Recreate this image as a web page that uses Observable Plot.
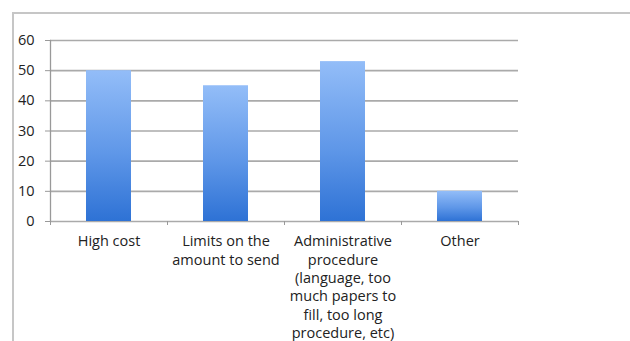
<!DOCTYPE html>
<html><head><meta charset="utf-8">
<script src="https://cdn.jsdelivr.net/npm/d3@7"></script>
<script src="https://cdn.jsdelivr.net/npm/@observablehq/plot@0.6"></script>
<style>
body{margin:0;background:#fff;}
#wrap{position:relative;width:630px;height:341px;overflow:hidden;}
#frame{position:absolute;left:12px;top:12px;width:700px;height:400px;border:2px solid #c6c6c6;pointer-events:none;}
</style></head><body><div id="wrap"><div id="chart"></div><div id="frame"></div></div>
<script>
const categories = ["High cost","Limits on the\namount to send","Administrative\nprocedure\n(language, too\nmuch papers to\nfill, too long\nprocedure, etc)","Other"];
const values = [50, 45, 53, 10];
const yTicks = [0, 10, 20, 30, 40, 50, 60];

const data = categories.map((c, i) => ({category: c, value: values[i]}));
const W = 630, H = 341, mL = 50, mR = 112, mT = 40, mB = 120;
const pi = 0.615;
const step = (W - mL - mR) / categories.length;

const plot = Plot.plot({
  width: W, height: H, marginLeft: mL, marginRight: mR, marginTop: mT, marginBottom: mB,
  style: {fontFamily: "'Open Sans', sans-serif", fontSize: "14.5px", color: "#222", background: "transparent"},
  x: {domain: categories, paddingInner: pi, paddingOuter: pi / 2, label: null},
  y: {domain: [0, 60], label: null},
  marks: [
    Plot.ruleY(yTicks, {stroke: "#aaaaaa", strokeWidth: 1.6}),
    Plot.barY(data, {x: "category", y: "value", fill: "url(#barGrad)"}),
    Plot.axisY({ticks: yTicks, tickSize: 5, tickPadding: 11, stroke: "#999", label: null}),
    Plot.axisX({tickSize: 0, tickPadding: 12, lineHeight: 1.26, label: null}),
    Plot.axisX({tickSize: 4, text: null, dx: step / 2, stroke: "#999", label: null}),
    Plot.axisX({ticks: [categories[0]], tickSize: 4, text: null, dx: -step / 2, stroke: "#999", label: null}),
    Plot.frame({anchor: "left", stroke: "#999", strokeWidth: 1.3})
  ]
});

const svg = d3.select(plot);
const grad = svg.insert("defs", ":first-child").append("linearGradient")
  .attr("id", "barGrad").attr("x1", 0).attr("y1", 0).attr("x2", 0).attr("y2", 1);
grad.append("stop").attr("offset", "0%").attr("stop-color", "#93bdf8");
grad.append("stop").attr("offset", "55%").attr("stop-color", "#5f97e8");
grad.append("stop").attr("offset", "100%").attr("stop-color", "#2e72d5");

document.getElementById("chart").appendChild(plot);
</script></body></html>
